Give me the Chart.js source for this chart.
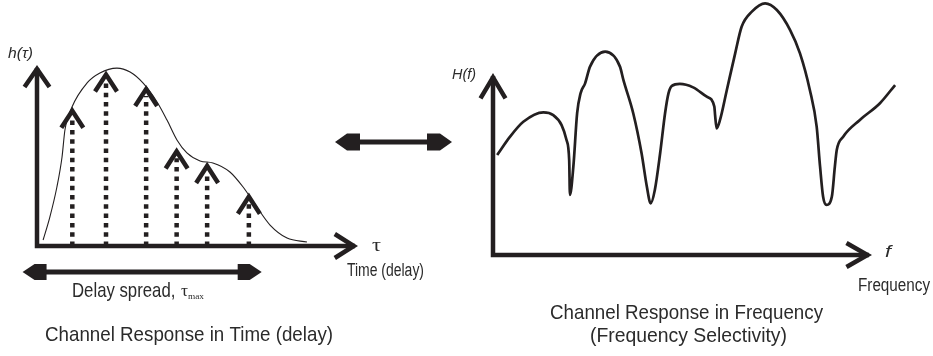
<!DOCTYPE html>
<html><head><meta charset="utf-8">
<script src="https://cdn.jsdelivr.net/npm/chart.js@4/dist/chart.umd.min.js"></script>
<style>
html,body{margin:0;padding:0;background:#fff;width:933px;height:356px;overflow:hidden}
#ca{position:absolute;left:0;top:0}
#cb{position:absolute;left:440px;top:0}
</style></head><body>
<canvas id="ca" width="470" height="356"></canvas>
<canvas id="cb" width="493" height="356"></canvas>
<script>
// ---------------- data ----------------
// Left panel: discrete multipath taps h(tau) and their envelope
const tapDelay = [1.1, 2.15, 3.4, 4.35, 5.3, 6.6];
const tapGain  = [7.7, 9.7, 8.9, 5.45, 4.65, 2.95];
const envelopeDelay = [0.19,0.40,0.62,0.78,0.87,1.09,1.56,1.96,2.49,2.90,3.30,3.74,4.05,4.36,4.67,5.08,5.48,6.01,6.42,6.85,7.26,7.79,8.41];
const envelopeGain  = [0.33,1.60,3.26,4.92,6.41,7.68,9.01,9.56,9.83,9.61,9.01,7.96,6.96,5.86,5.14,4.70,4.59,4.09,3.26,2.15,1.16,0.44,0.22];
const delaySpread = [-0.45, 7.0];
// Right panel: frequency response |H(f)|
const freqAxis = [0.11,0.45,0.80,1.33,1.59,1.81,1.94,2.01,2.03,2.12,2.22,2.31,2.43,2.56,2.96,3.35,3.44,3.70,3.92,4.06,4.16,4.27,4.41,4.54,4.63,4.72,4.93,5.28,5.64,5.84,5.86,5.90,5.99,6.17,6.39,6.56,6.83,7.18,7.49,7.84,8.10,8.36,8.54,8.63,8.71,8.80,8.94,9.02,9.07,9.24,9.68,10.21,10.61];
const freqResponse = [5.49,6.50,7.32,7.84,7.69,7.14,6.32,5.22,3.30,4.85,7.79,8.88,9.43,10.35,11.17,10.35,9.62,7.79,5.59,3.75,2.84,3.57,5.59,7.79,8.88,9.29,9.40,9.21,8.70,8.15,7.69,6.96,7.42,9.07,11.08,12.54,13.37,13.83,13.46,12.36,11.08,9.07,7.05,4.85,3.20,2.75,3.20,4.85,5.77,6.50,7.42,8.34,9.34];
const freqAxisEnd = 10;
// Text labels
const leftYLabel = 'h(\u03C4)';
const leftXSymbol = '\u03C4';
const leftXName = 'Time (delay)';
const spreadLabel = 'Delay spread, ';
const leftCaption = 'Channel Response in Time (delay)';
const rightYLabel = 'H(f)';
const rightXSymbol = 'f';
const rightXName = 'Frequency';
const rightCaption1 = 'Channel Response in Frequency';
const rightCaption2 = '(Frequency Selectivity)';

// ---------------- helpers ----------------
const INK = '#231f20';
const TXT = '#2b2b2b';

function chevron(ctx, x, y, dir, hw, len, lw) {
  // outer miter tip placed at (x,y)
  const ext = (lw/2) / Math.sin(Math.atan(hw/len));
  ctx.save();
  ctx.strokeStyle = INK; ctx.lineWidth = lw; ctx.lineJoin = 'miter'; ctx.miterLimit = 10; ctx.lineCap = 'butt';
  ctx.setLineDash([]);
  ctx.beginPath();
  if (dir === 'up') {
    const ty = y + ext;
    ctx.moveTo(x - hw, ty + len); ctx.lineTo(x, ty); ctx.lineTo(x + hw, ty + len);
  } else {
    const tx = x - ext;
    ctx.moveTo(tx - len, y - hw); ctx.lineTo(tx, y); ctx.lineTo(tx - len, y + hw);
  }
  ctx.stroke();
  ctx.restore();
}

function dblArrow(ctx, x1, x2, y, headLen, slant, half, shaft) {
  ctx.save();
  ctx.fillStyle = INK;
  ctx.fillRect(x1 + headLen - 1, y - shaft/2, (x2 - x1) - 2*headLen + 2, shaft);
  ctx.beginPath();
  ctx.moveTo(x1, y); ctx.lineTo(x1 + slant, y - half); ctx.lineTo(x1 + headLen, y - half);
  ctx.lineTo(x1 + headLen, y + half); ctx.lineTo(x1 + slant, y + half); ctx.closePath(); ctx.fill();
  ctx.beginPath();
  ctx.moveTo(x2, y); ctx.lineTo(x2 - slant, y - half); ctx.lineTo(x2 - headLen, y - half);
  ctx.lineTo(x2 - headLen, y + half); ctx.lineTo(x2 - slant, y + half); ctx.closePath(); ctx.fill();
  ctx.restore();
}

function fitText(ctx, str, x, y, font, w, color) {
  ctx.save();
  ctx.font = font; ctx.fillStyle = color || TXT; ctx.textBaseline = 'alphabetic'; ctx.textAlign = 'left';
  const m = ctx.measureText(str).width;
  const s = w ? w / m : 1;
  ctx.translate(x, y); ctx.scale(s, 1); ctx.fillText(str, 0, 0);
  ctx.restore();
}

function drawAxes(chart, xEndPx, hwY, lenY, hwX, lenX) {
  const ctx = chart.ctx, a = chart.chartArea;
  const lw = 4.5;
  ctx.save();
  ctx.strokeStyle = INK; ctx.lineWidth = lw; ctx.lineCap = 'butt'; ctx.setLineDash([]);
  ctx.beginPath();
  ctx.moveTo(a.left, a.bottom + lw/2); ctx.lineTo(a.left, a.top + 3);
  ctx.moveTo(a.left - lw/2, a.bottom); ctx.lineTo(xEndPx - 3, a.bottom);
  ctx.stroke();
  ctx.restore();
  chevron(ctx, a.left, a.top, 'up', hwY, lenY, lw);
  chevron(ctx, xEndPx, a.bottom, 'right', hwX, lenX, lw);
}

const basePlugins = { legend: { display: false }, tooltip: { enabled: false }, title: { display: false } };

// ---------------- left chart ----------------
const leftDecor = {
  id: 'leftDecor',
  afterDatasetsDraw(chart) {
    const ctx = chart.ctx;
    const xs = chart.scales.x, ys = chart.scales.y;
    const y0 = ys.getPixelForValue(0);
    const meta = chart.getDatasetMeta(1);
    meta.data.forEach(pt => {
      ctx.save();
      ctx.strokeStyle = INK; ctx.lineWidth = 4.5; ctx.lineCap = 'butt';
      ctx.setLineDash([4.5, 4.8]);
      ctx.beginPath(); ctx.moveTo(pt.x, y0); ctx.lineTo(pt.x, pt.y + 11); ctx.stroke();
      ctx.restore();
      chevron(ctx, pt.x, pt.y, 'up', 11, 17, 4.5);
    });
    drawAxes(chart, xs.right, 12.5, 18, 12, 19);
    // delay spread arrow
    dblArrow(ctx, xs.getPixelForValue(delaySpread[0]), xs.getPixelForValue(delaySpread[1]), ys.bottom + 26, 24, 12, 8, 5);
    // middle double arrow
    dblArrow(ctx, 335, 452, 142, 25, 12, 8.5, 5);
    // texts
    fitText(ctx, leftYLabel, 8, 58, 'italic 15px "Liberation Sans"', 25);
    fitText(ctx, leftXSymbol, 372, 251, '18px "Liberation Serif"', 9);
    fitText(ctx, leftXName, 347, 276, '18px "Liberation Sans"', 77);
    fitText(ctx, spreadLabel, 72, 297, '21px "Liberation Sans"', 108);
    fitText(ctx, '\u03C4', 181, 296, '17px "Liberation Serif"', 7);
    fitText(ctx, 'max', 188, 299, '8px "Liberation Serif"', 16);
    fitText(ctx, leftCaption, 45, 341, '21px "Liberation Sans"', 288);
  }
};

new Chart(document.getElementById('ca'), {
  type: 'scatter',
  data: {
    datasets: [
      {
        data: envelopeDelay.map((x, i) => ({ x, y: envelopeGain[i] })),
        showLine: true, borderColor: INK, borderWidth: 1.1, pointRadius: 0,
        cubicInterpolationMode: 'monotone', fill: false, clip: false
      },
      {
        data: tapDelay.map((x, i) => ({ x, y: tapGain[i] })),
        showLine: false, pointRadius: 0, clip: false
      }
    ]
  },
  options: {
    responsive: false, animation: false, events: [],
    layout: { padding: { left: 37, right: 112, top: 65, bottom: 110 } },
    scales: {
      x: { type: 'linear', min: 0, max: 10, display: false },
      y: { type: 'linear', min: 0, max: 10, display: false }
    },
    plugins: basePlugins
  },
  plugins: [leftDecor]
});

// ---------------- right chart ----------------
const rightDecor = {
  id: 'rightDecor',
  afterDatasetsDraw(chart) {
    const ctx = chart.ctx;
    const xs = chart.scales.x;
    drawAxes(chart, xs.getPixelForValue(freqAxisEnd), 12.5, 21, 12, 21);
    const o = 440;
    fitText(ctx, rightYLabel, 452 - o, 79, 'italic 15px "Liberation Sans"', 24);
    fitText(ctx, rightXSymbol, 885 - o, 257, 'italic 17px "Liberation Sans"', 6);
    fitText(ctx, rightXName, 858 - o, 291, '18px "Liberation Sans"', 72);
    fitText(ctx, rightCaption1, 550 - o, 319, '21px "Liberation Sans"', 273);
    fitText(ctx, rightCaption2, 590 - o, 342, '21px "Liberation Sans"', 197);
  }
};

new Chart(document.getElementById('cb'), {
  type: 'scatter',
  data: {
    datasets: [{
      data: freqAxis.map((x, i) => ({ x, y: freqResponse[i] })),
      showLine: true, borderColor: INK, borderWidth: 2.7, pointRadius: 0,
      cubicInterpolationMode: 'monotone', fill: false, clip: false
    }]
  },
  options: {
    responsive: false, animation: false, events: [],
    layout: { padding: { left: 53, right: 23.1, top: 73, bottom: 101 } },
    scales: {
      x: { type: 'linear', min: 0, max: 11, display: false },
      y: { type: 'linear', min: 0, max: 10, display: false }
    },
    plugins: basePlugins
  },
  plugins: [rightDecor]
});
</script>
</body></html>
